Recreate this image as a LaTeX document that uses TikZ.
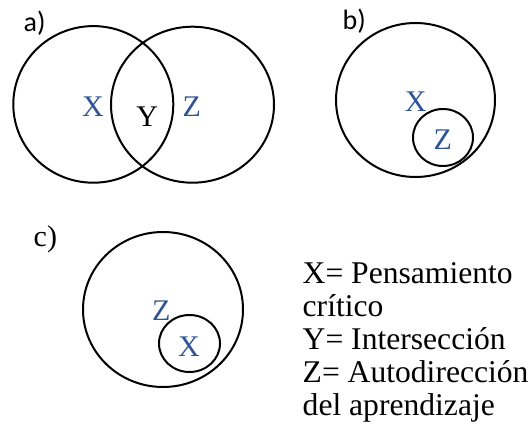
\documentclass[tikz,border=0pt]{standalone}
\usepackage{fontspec}
\setmainfont{Liberation Serif}
\newfontfamily\calfont{Carlito}
\definecolor{lblblue}{RGB}{47,84,150}
\begin{document}
\begin{tikzpicture}[x=1pt,y=-1pt,
  ring/.style={draw=black,line width=2pt},
  tag/.style={inner sep=0pt,anchor=base west,font=\calfont\fontsize{28}{30}\selectfont},
  tagserif/.style={inner sep=0pt,anchor=base west,font=\fontsize{30}{32}\selectfont},
  setlbl/.style={inner sep=0pt,anchor=base,text=lblblue,font=\fontsize{30}{32}\selectfont},
  leg/.style={inner sep=0pt,anchor=base west,font=\fontsize{31.6}{33}\selectfont}]
\useasboundingbox[fill=white] (0,0) rectangle (528,439);
% a)
\node[tag] (la) at (23.5,31) {a)};
\draw[ring] (93.3,104.4) ellipse [x radius=80, y radius=78.3];
\draw[ring] (192.5,104.7) ellipse [x radius=81.5, y radius=78];
\node[setlbl] (ax) at (93,116.7) {X};
\node[setlbl,text=black] (ay) at (147.3,126.7) {Y};
\node[setlbl] (az) at (191.7,116.7) {Z};
% b)
\node[tag] (lb) at (342.5,29) {b)};
\draw[ring] (415.5,100) ellipse [x radius=79.5, y radius=77];
\draw[ring] (443,137.5) ellipse [x radius=30, y radius=28.5];
\node[setlbl] (bx) at (415.8,111) {X};
\node[setlbl] (bz) at (442.8,149.3) {Z};
% c)
\node[tagserif] (lc) at (33.5,246.7) {c)};
\draw[ring] (163,309.5) ellipse [x radius=80, y radius=77.5];
\draw[ring] (189.5,343.5) ellipse [x radius=30.5, y radius=28.5];
\node[setlbl] (cz) at (161.2,320.7) {Z};
\node[setlbl] (cx) at (189,356) {X};
% legend
\node[leg] (l1) at (302.5,283.3) {X= Pensamiento};
\node[leg] (l2) at (302.5,316.3) {crítico};
\node[leg] (l3) at (302.5,349.3) {Y= Intersección};
\node[leg] (l4) at (302.5,382.3) {Z= Autodirección};
\node[leg] (l5) at (302.5,415.3) {del aprendizaje};
\end{tikzpicture}
\end{document}
